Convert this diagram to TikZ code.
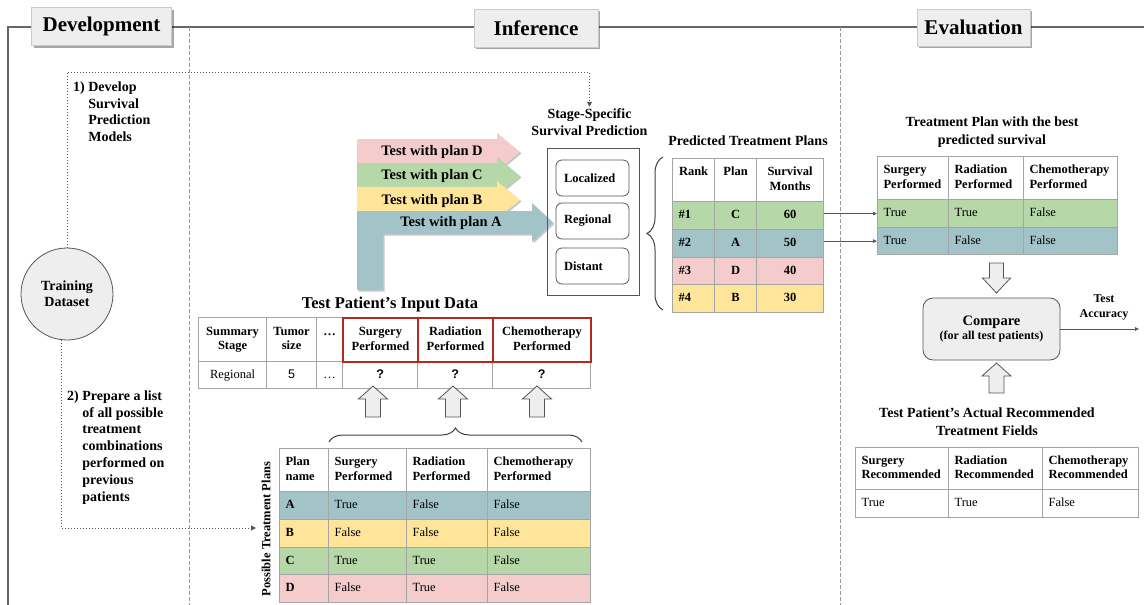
\documentclass[tikz,border=0pt]{standalone}
\usepackage{fontspec}
\setmainfont{Liberation Serif}
\newfontfamily\sansf{Liberation Sans}
\usetikzlibrary{arrows.meta,shadows,decorations.pathreplacing,calc}
\definecolor{cpink}{HTML}{F4CCCC}
\definecolor{cgreen}{HTML}{B6D7A8}
\definecolor{cyellow}{HTML}{FFE599}
\definecolor{cblue}{HTML}{A2C4C9}
\definecolor{tabline}{HTML}{A5A5A5}
\definecolor{cred}{HTML}{B22A1E}
\definecolor{boxgray}{HTML}{EEEEEE}
\definecolor{darkl}{HTML}{555555}
\newcommand\fs[2]{\fontsize{#1}{#2}\selectfont}
\newcommand\tstrutA{\rule{0pt}{9.3pt}}
\newcommand\tstrutB{\rule[-3.2pt]{0pt}{3.2pt}}
\tikzset{
  cell/.style={draw=tabline, line width=1.2pt, anchor=north west, inner xsep=6pt, inner ysep=0pt, align=left, font=\fs{12.5}{14}},
  hd/.style={font=\fs{12.5}{14.5}\bfseries},
  redcell/.style={draw=cred, line width=2pt},
  ttlbox/.style={fill=boxgray, draw=boxgray!85!black, line width=0.3pt, font=\fs{21}{24}\bfseries, inner sep=0pt,
     drop shadow={shadow xshift=2pt, shadow yshift=-2pt, fill=black, opacity=0.35}},
  frameline/.style={draw=darkl!90, line width=1.1pt},
  sepline/.style={draw=black!40, line width=0.9pt, dash pattern=on 4pt off 2pt},
  dotarrow/.style={draw=darkl, line width=0.9pt, dash pattern=on 1pt off 2pt, -{Triangle[length=5pt,width=5pt]}},
  thinarrow/.style={draw=darkl, line width=0.8pt, -{Triangle[length=4pt,width=3.5pt]}},
  bold14/.style={font=\fs{14}{17}\bfseries, align=center},
  tarrow/.style={drop shadow={shadow xshift=1.5pt, shadow yshift=-1.5pt, fill=black, opacity=0.22}},
  blockarrow/.style={draw=darkl, fill=boxgray, line width=0.8pt},
  stagebox/.style={draw=darkl, line width=0.8pt, rounded corners=6pt, minimum height=36pt, text width=57pt, inner xsep=8pt, align=left, font=\fs{12.5}{14}\bfseries},
  bracel/.style={draw=black!75, line width=1pt, decorate},
}
\newcommand\tc[7]{\node[cell,text width={#4pt-12pt},minimum height=#5pt,#6] (#1) at (#2,#3) {\tstrutA#7\tstrutB};}
\newcommand\harrow[5]{\path[tarrow,fill=#1] (357,#2) -- (#4,#2) -- (#4,{(#2+#3)/2-19}) -- (#5,{(#2+#3)/2}) -- (#4,{(#2+#3)/2+19}) -- (#4,#3) -- (357,#3) -- cycle;}
\newcommand\blockup[3]{\draw[blockarrow] ({#1-7.5},#3) -- ({#1-7.5},{#2+13}) -- ({#1-14.5},{#2+13}) -- (#1,#2) -- ({#1+14.5},{#2+13}) -- ({#1+7.5},{#2+13}) -- ({#1+7.5},#3) -- cycle;}
\newcommand\blockdown[3]{\draw[blockarrow] ({#1-7},#2) -- ({#1-7},{#3-15}) -- ({#1-14},{#3-15}) -- (#1,#3) -- ({#1+14},{#3-15}) -- ({#1+7},{#3-15}) -- ({#1+7},#2) -- cycle;}
\begin{document}
\begin{tikzpicture}[x=1pt,y=-1pt]
\useasboundingbox (0,0) rectangle (1144,605);
% frame
\draw[frameline] (8,605) -- (8,27) -- (1144,27);
\draw[sepline] (189,27) -- (189,605);
\draw[sepline] (840,27) -- (840,605);
% section titles
\node[ttlbox, minimum width=140pt, minimum height=38pt] (tdev) at (101.5,26.5) {\raisebox{-1.5pt}{Development}};
\node[ttlbox, minimum width=124pt, minimum height=38pt] (tinf) at (536,28) {Inference};
\node[ttlbox, minimum width=113pt, minimum height=37pt] (teva) at (973.5,27.5) {Evaluation};
% training dataset
\node[circle, draw=darkl, line width=0.8pt, fill=boxgray, minimum size=92pt, bold14, font=\fs{14}{16}\bfseries] (train) at (67,294) {Training\\Dataset};
\node[anchor=west, font=\fs{14}{16.7}\bfseries, align=left, inner sep=0pt] (step1) at (73,113) {1) Develop\\\phantom{1)\ }Survival\\\phantom{1)\ }Prediction\\\phantom{1)\ }Models};
\node[anchor=west, font=\fs{14}{16.9}\bfseries, align=left, inner sep=0pt] (step2) at (67,447.5) {2) Prepare a list\\\phantom{2)\ }of all possible\\\phantom{2)\ }treatment\\\phantom{2)\ }combinations\\\phantom{2)\ }performed on\\\phantom{2)\ }previous\\\phantom{2)\ }patients};
% stage specific
\node[bold14, inner sep=2pt] (sslab) at (589.5,122.5) {Stage-Specific\\Survival Prediction};
\coordinate (k1) at (589.5,72);
\draw[dotarrow] (train.north) |- (k1) -- (sslab.north);
\node[rotate=90, font=\fs{12.5}{14}\bfseries, inner sep=1pt] (ptp) at (266,529) {Possible Treatment Plans};
\coordinate (pend) at (256,528);
\draw[dotarrow] (train.-97) |- (pend);
% test arrows
\harrow{cpink}{139}{165}{497}{520}
\harrow{cgreen}{163}{189}{497}{520}
\harrow{cyellow}{187}{213}{497}{520}
\path[tarrow,fill=cblue] (357,211) -- (532,211) -- (532,203) -- (553,222.5) -- (532,242) -- (532,234) -- (383,234) -- (383,290) -- (357,290) -- cycle;
\node[font=\fs{14.5}{16}\bfseries] (ad) at (432,152) {Test with plan D};
\node[font=\fs{14.5}{16}\bfseries] (ac) at (432,176) {Test with plan C};
\node[font=\fs{14.5}{16}\bfseries] (ab) at (432,201) {Test with plan B};
\node[font=\fs{14.5}{16}\bfseries] (aa) at (451,223) {Test with plan A};
% stage box
\node[draw=darkl, line width=0.8pt, minimum width=92pt, minimum height=147pt] (stg) at (593,221.5) {};
\node[stagebox] (sloc) at (592.5,178) {Localized};
\node[stagebox] (sreg) at (592.5,221) {Regional};
\node[stagebox] (sdis) at (592.5,266) {Distant};
\draw[bracel, decoration={brace, amplitude=16pt}] (663,310) -- (663,157);
% ranking table
\node[font=\fs{14}{16}\bfseries] (tpred) at (748,141) {Predicted Treatment Plans};
\tc{rh1}{672}{158}{42}{43}{hd,fill=white,align=center}{Rank\\\mbox{}}
\tc{rh2}{714}{158}{42}{43}{hd,fill=white,align=center}{Plan\\\mbox{}}
\tc{rh3}{756}{158}{67}{43}{hd,fill=white,align=center}{Survival\\Months}
\tc{r1a}{672}{201}{42}{27.75}{hd,fill=cgreen}{\#1}
\tc{r1b}{714}{201}{42}{27.75}{hd,fill=cgreen,align=center}{C}
\tc{r1c}{756}{201}{67}{27.75}{hd,fill=cgreen,align=center}{60}
\tc{r2a}{672}{228.75}{42}{27.75}{hd,fill=cblue}{\#2}
\tc{r2b}{714}{228.75}{42}{27.75}{hd,fill=cblue,align=center}{A}
\tc{r2c}{756}{228.75}{67}{27.75}{hd,fill=cblue,align=center}{50}
\tc{r3a}{672}{256.5}{42}{27.75}{hd,fill=cpink}{\#3}
\tc{r3b}{714}{256.5}{42}{27.75}{hd,fill=cpink,align=center}{D}
\tc{r3c}{756}{256.5}{67}{27.75}{hd,fill=cpink,align=center}{40}
\tc{r4a}{672}{284.25}{42}{27.75}{hd,fill=cyellow}{\#4}
\tc{r4b}{714}{284.25}{42}{27.75}{hd,fill=cyellow,align=center}{B}
\tc{r4c}{756}{284.25}{67}{27.75}{hd,fill=cyellow,align=center}{30}
% best plan table
\node[bold14, font=\fs{14}{18}\bfseries] (tbest) at (992,132) {Treatment Plan with the best\\predicted survival};
\tc{bh1}{877}{156}{71}{43}{hd,fill=white}{Surgery\\Performed}
\tc{bh2}{948}{156}{75}{43}{hd,fill=white}{Radiation\\Performed}
\tc{bh3}{1023}{156}{94}{43}{hd,fill=white}{Chemotherapy\\Performed}
\tc{b1a}{877}{199}{71}{28}{fill=cgreen}{True}
\tc{b1b}{948}{199}{75}{28}{fill=cgreen}{True}
\tc{b1c}{1023}{199}{94}{28}{fill=cgreen}{False}
\tc{b2a}{877}{227}{71}{27}{fill=cblue}{True}
\tc{b2b}{948}{227}{75}{27}{fill=cblue}{False}
\tc{b2c}{1023}{227}{94}{27}{fill=cblue}{False}
\draw[thinarrow] (r1c.east |- b1a.west) -- (b1a.west);
\draw[thinarrow] (r2c.east |- b2a.west) -- (b2a.west);
% compare
\blockdown{996.5}{263}{293}
\node[draw=darkl, line width=0.8pt, fill=boxgray, rounded corners=10pt, minimum width=137pt, minimum height=62pt, align=center] (cmp) at (991.5,329) {{\fs{14.5}{16}\bfseries Compare}\\[1.5pt]{\fs{12}{14}\bfseries (for all test patients)}};
\blockup{996.5}{363}{393}
\coordinate (acc) at (1139,329);
\draw[thinarrow] (cmp.east) -- (acc);
\node[font=\fs{12}{15}\bfseries, align=center] (acclab) at (1104,307.5) {Test\\Accuracy};
% recommended table
\node[bold14, font=\fs{14}{18}\bfseries] (trec) at (987,422) {Test Patient’s Actual Recommended\\Treatment Fields};
\tc{ch1}{855}{447}{93}{42}{hd,fill=white}{Surgery\\Recommended}
\tc{ch2}{948}{447}{94}{42}{hd,fill=white}{Radiation\\Recommended}
\tc{ch3}{1042}{447}{96}{42}{hd,fill=white}{Chemotherapy\\Recommended}
\tc{c1a}{855}{489}{93}{28}{fill=white}{True}
\tc{c1b}{948}{489}{94}{28}{fill=white}{True}
\tc{c1c}{1042}{489}{96}{28}{fill=white}{False}
% input table
\node[font=\fs{16.5}{18}\bfseries] (tinp) at (390,305) {Test Patient’s Input Data};
\tc{i1a}{198}{361}{68}{27}{fill=white,align=center}{Regional}
\tc{i1b}{266}{361}{50}{27}{fill=white,align=center}{\sansf 5}
\tc{i1c}{316}{361}{26}{27}{fill=white,align=center}{…}
\tc{i1d}{342}{361}{75}{27}{fill=white,align=center}{\sansf\bfseries ?}
\tc{i1e}{417}{361}{75}{27}{fill=white,align=center}{\sansf\bfseries ?}
\tc{i1f}{492}{361}{98}{27}{fill=white,align=center}{\sansf\bfseries ?}
\tc{ih1}{198}{317}{68}{44}{hd,fill=white,align=center}{Summary\\Stage}
\tc{ih2}{266}{317}{50}{44}{hd,fill=white,align=center}{Tumor\\size}
\tc{ih3}{316}{317}{26}{44}{hd,fill=white,align=center}{…\\\mbox{}}
\tc{ih4}{342}{317}{75}{44}{hd,fill=white,align=center,redcell}{Surgery\\Performed}
\tc{ih5}{417}{317}{75}{44}{hd,fill=white,align=center,redcell}{Radiation\\Performed}
\tc{ih6}{492}{317}{98}{44}{hd,fill=white,align=center,redcell}{Chemotherapy\\Performed}
\blockup{373}{386}{417}
\blockup{453}{386}{417}
\blockup{537}{386}{417}
\draw[bracel, decoration={brace, amplitude=14pt}] (329,442) -- (582,442);
% possible plans table
\tc{ph1}{279}{448}{49}{43}{hd,fill=white}{Plan\\name}
\tc{ph2}{328}{448}{78}{43}{hd,fill=white}{Surgery\\Performed}
\tc{ph3}{406}{448}{81}{43}{hd,fill=white}{Radiation\\Performed}
\tc{ph4}{487}{448}{103}{43}{hd,fill=white}{Chemotherapy\\Performed}
\tc{pa1}{279}{491}{49}{27.75}{hd,fill=cblue}{A}
\tc{pa2}{328}{491}{78}{27.75}{fill=cblue}{True}
\tc{pa3}{406}{491}{81}{27.75}{fill=cblue}{False}
\tc{pa4}{487}{491}{103}{27.75}{fill=cblue}{False}
\tc{pb1}{279}{518.75}{49}{27.75}{hd,fill=cyellow}{B}
\tc{pb2}{328}{518.75}{78}{27.75}{fill=cyellow}{False}
\tc{pb3}{406}{518.75}{81}{27.75}{fill=cyellow}{False}
\tc{pb4}{487}{518.75}{103}{27.75}{fill=cyellow}{False}
\tc{pc1}{279}{546.5}{49}{27.75}{hd,fill=cgreen}{C}
\tc{pc2}{328}{546.5}{78}{27.75}{fill=cgreen}{True}
\tc{pc3}{406}{546.5}{81}{27.75}{fill=cgreen}{True}
\tc{pc4}{487}{546.5}{103}{27.75}{fill=cgreen}{False}
\tc{pd1}{279}{574.25}{49}{27.75}{hd,fill=cpink}{D}
\tc{pd2}{328}{574.25}{78}{27.75}{fill=cpink}{False}
\tc{pd3}{406}{574.25}{81}{27.75}{fill=cpink}{True}
\tc{pd4}{487}{574.25}{103}{27.75}{fill=cpink}{False}
\end{tikzpicture}
\end{document}
